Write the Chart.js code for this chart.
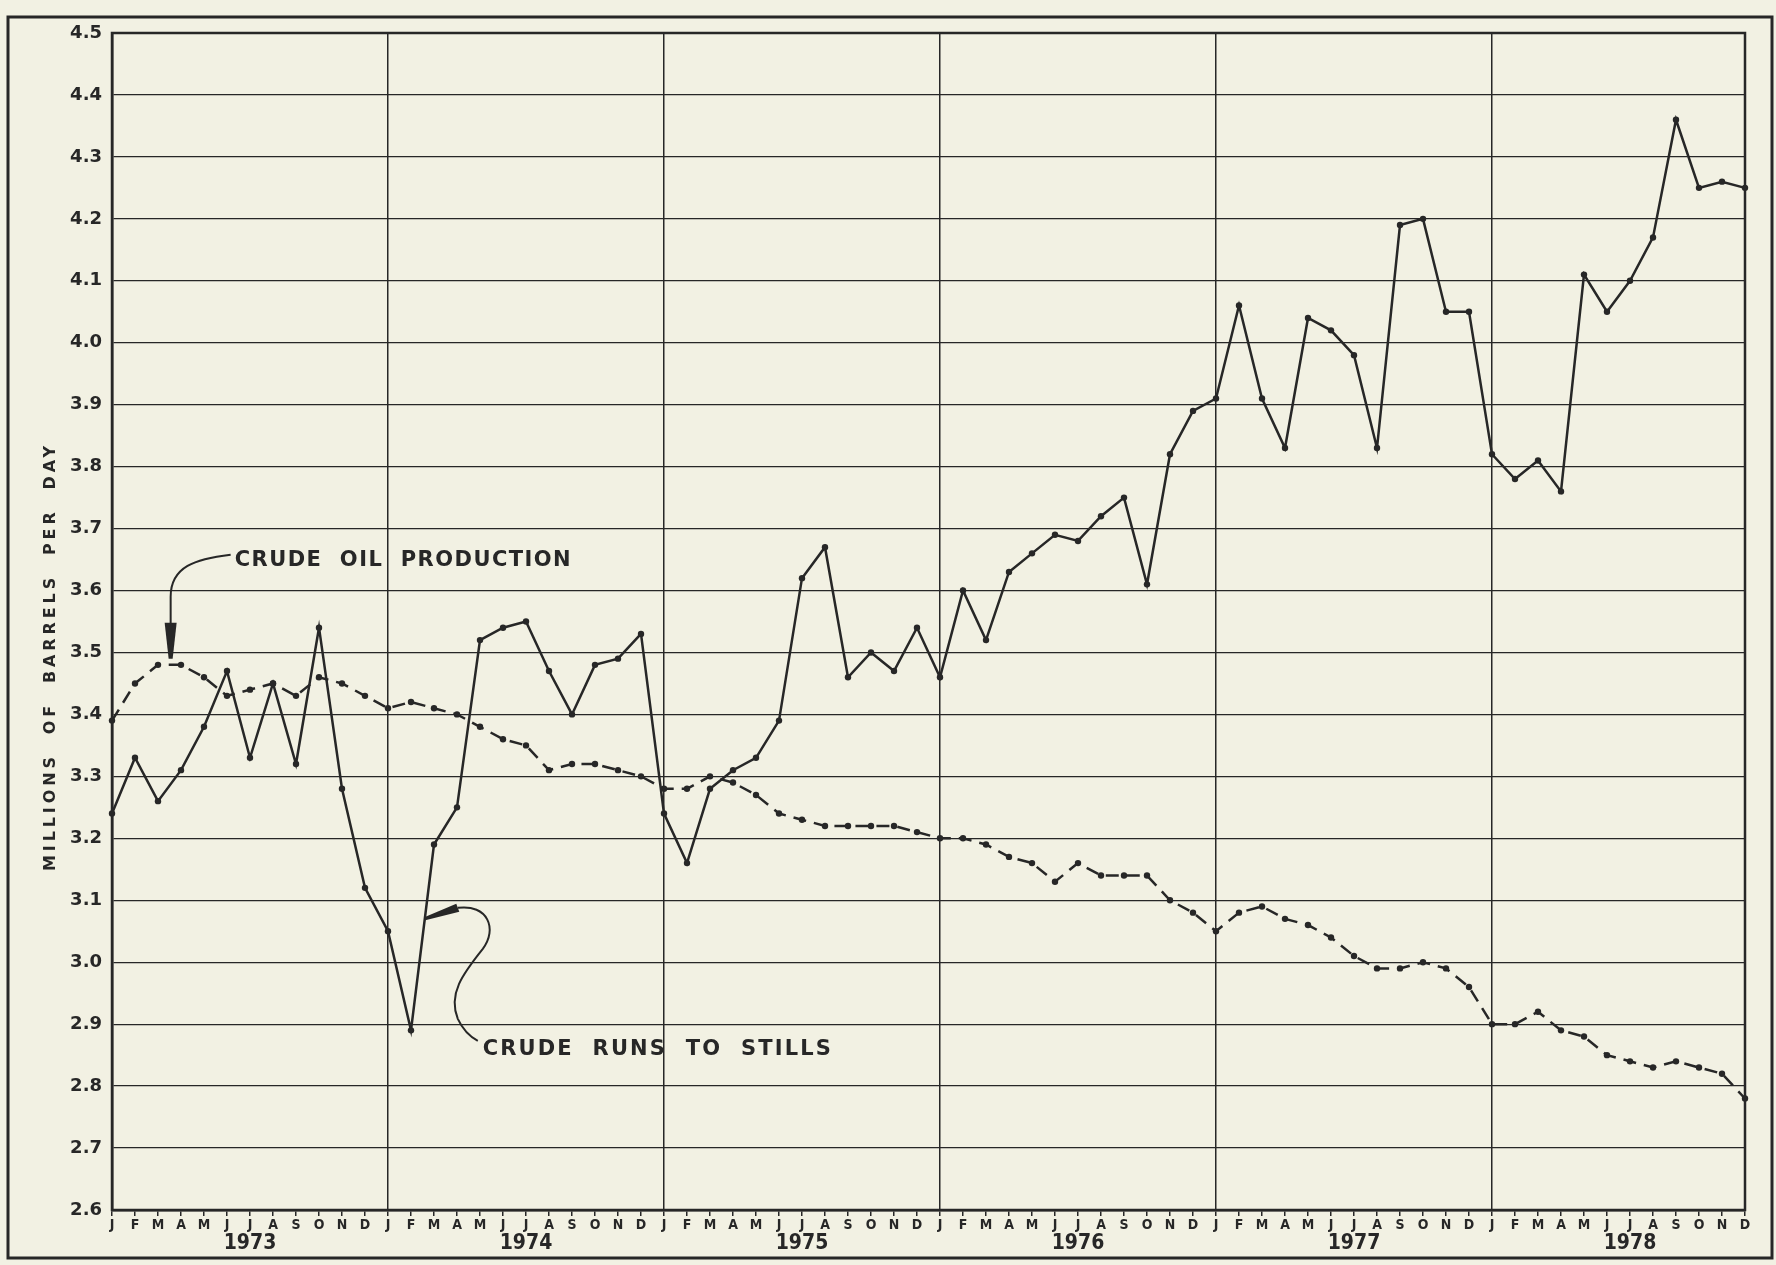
<!DOCTYPE html>
<html>
<head>
<meta charset="utf-8">
<script src="https://cdn.jsdelivr.net/npm/chart.js@4.4.1/dist/chart.umd.min.js"></script>
<style>
  html, body { margin: 0; padding: 0; background: #f2f1e3; }
  #wrap { width: 1776px; height: 1265px; }
</style>
</head>
<body>
<div id="wrap"><canvas id="crudeChart" width="1776" height="1265"></canvas></div>
<script>
// Monthly crude runs to stills vs crude oil production, 1973-1978 (millions of barrels per day)
const monthLetters = ['J', 'F', 'M', 'A', 'M', 'J', 'J', 'A', 'S', 'O', 'N', 'D'];
const years = ['1973', '1974', '1975', '1976', '1977', '1978'];
const yMin = 2.6;
const yMax = 4.5;
const yStep = 0.1;

const runsToStills = [
    3.24, 3.33, 3.26, 3.31, 3.38, 3.47, 3.33, 3.45, 3.32, 3.54, 3.28, 3.12,
    3.05, 2.89, 3.19, 3.25, 3.52, 3.54, 3.55, 3.47, 3.40, 3.48, 3.49, 3.53,
    3.24, 3.16, 3.28, 3.31, 3.33, 3.39, 3.62, 3.67, 3.46, 3.50, 3.47, 3.54,
    3.46, 3.60, 3.52, 3.63, 3.66, 3.69, 3.68, 3.72, 3.75, 3.61, 3.82, 3.89,
    3.91, 4.06, 3.91, 3.83, 4.04, 4.02, 3.98, 3.83, 4.19, 4.20, 4.05, 4.05,
    3.82, 3.78, 3.81, 3.76, 4.11, 4.05, 4.10, 4.17, 4.36, 4.25, 4.26, 4.25
];

const oilProduction = [
    3.39, 3.45, 3.48, 3.48, 3.46, 3.43, 3.44, 3.45, 3.43, 3.46, 3.45, 3.43,
    3.41, 3.42, 3.41, 3.40, 3.38, 3.36, 3.35, 3.31, 3.32, 3.32, 3.31, 3.30,
    3.28, 3.28, 3.30, 3.29, 3.27, 3.24, 3.23, 3.22, 3.22, 3.22, 3.22, 3.21,
    3.20, 3.20, 3.19, 3.17, 3.16, 3.13, 3.16, 3.14, 3.14, 3.14, 3.10, 3.08,
    3.05, 3.08, 3.09, 3.07, 3.06, 3.04, 3.01, 2.99, 2.99, 3.00, 2.99, 2.96,
    2.90, 2.90, 2.92, 2.89, 2.88, 2.85, 2.84, 2.83, 2.84, 2.83, 2.82, 2.78
];

const labels = years.flatMap(() => monthLetters);

const ink = '#272727';
const paper = '#f2f1e3';

// spread text so it fills a given width, like hand lettering
function spacedText(ctx, text, x, y, width) {
    ctx.letterSpacing = '0px';
    const w = ctx.measureText(text).width;
    ctx.letterSpacing = ((width - w) / (text.length - 1)) + 'px';
    ctx.fillText(text, x, y);
    ctx.letterSpacing = '0px';
}

const paperPlugin = {
    id: 'paper',
    beforeDraw(chart) {
        const ctx = chart.ctx;
        ctx.save();
        ctx.fillStyle = paper;
        ctx.fillRect(0, 0, chart.width, chart.height);
        ctx.restore();
    },
    afterDraw(chart) {
        const { ctx, chartArea: a, scales: { x, y } } = chart;
        ctx.save();
        ctx.strokeStyle = ink;
        ctx.fillStyle = ink;

        // plot frame and outer frame
        ctx.lineWidth = 2.5;
        ctx.strokeRect(a.left, a.top, a.right - a.left, a.bottom - a.top);
        ctx.lineWidth = 3;
        ctx.strokeRect(8, 17, chart.width - 12, chart.height - 24);

        // year labels under the months
        ctx.font = 'bold 21px "DejaVu Sans Condensed", "DejaVu Sans", sans-serif';
        ctx.textAlign = 'center';
        ctx.textBaseline = 'middle';
        years.forEach((yr, i) => {
            ctx.fillText(yr, x.getPixelForValue(i * 12 + 6), 1244);
        });

        // y axis title
        ctx.save();
        ctx.translate(51, 659);
        ctx.rotate(-Math.PI / 2);
        ctx.font = 'bold 16px "DejaVu Sans", sans-serif';
        ctx.textAlign = 'left';
        spacedText(ctx, 'MILLIONS  OF  BARRELS  PER  DAY', -212, 0, 425);
        ctx.restore();

        ctx.font = 'bold 21px "DejaVu Sans", sans-serif';
        ctx.textAlign = 'left';
        ctx.lineWidth = 2;

        // crude oil production callout
        let tx = x.getPixelForValue(2.55);
        let ty = y.getPixelForValue(3.49);
        ctx.beginPath();
        ctx.moveTo(tx, ty - 34);
        ctx.lineTo(tx, ty - 62);
        ctx.bezierCurveTo(tx, ty - 92, tx + 25, ty - 100, tx + 60, ty - 104);
        ctx.stroke();
        ctx.beginPath();
        ctx.moveTo(tx - 6, ty - 36);
        ctx.lineTo(tx + 6, ty - 36);
        ctx.lineTo(tx + 2, ty);
        ctx.lineTo(tx - 2, ty);
        ctx.closePath();
        ctx.fill();
        spacedText(ctx, 'CRUDE  OIL  PRODUCTION', tx + 64, ty - 98, 336);

        // crude runs to stills callout
        tx = x.getPixelForValue(13.6);
        ty = y.getPixelForValue(3.07);
        ctx.beginPath();
        ctx.moveTo(tx + 33, ty - 11);
        ctx.bezierCurveTo(tx + 63, ty - 15, tx + 73, ty + 10, tx + 58, ty + 30);
        ctx.bezierCurveTo(tx + 38, ty + 55, tx + 23, ty + 75, tx + 33, ty + 100);
        ctx.quadraticCurveTo(tx + 40, ty + 115, tx + 53, ty + 122);
        ctx.stroke();
        ctx.beginPath();
        ctx.moveTo(tx + 34.5, ty - 7);
        ctx.lineTo(tx + 31.5, ty - 15);
        ctx.lineTo(tx - 0.5, ty - 1.5);
        ctx.lineTo(tx + 0.5, ty + 1.5);
        ctx.closePath();
        ctx.fill();
        spacedText(ctx, 'CRUDE  RUNS  TO  STILLS', tx + 58, ty + 131, 348);

        ctx.restore();
    }
};

new Chart(document.getElementById('crudeChart'), {
    type: 'line',
    data: {
        labels: labels,
        datasets: [
            {
                label: 'Crude runs to stills',
                data: runsToStills,
                borderColor: ink,
                borderWidth: 2.5,
                pointRadius: 3.2,
                pointBackgroundColor: ink,
                pointBorderWidth: 0,
                tension: 0
            },
            {
                label: 'Crude oil production',
                data: oilProduction,
                borderColor: ink,
                borderWidth: 2.5,
                borderDash: [13, 8],
                pointRadius: 3.2,
                pointBackgroundColor: ink,
                pointBorderWidth: 0,
                tension: 0
            }
        ]
    },
    options: {
        responsive: false,
        animation: false,
        layout: { padding: { top: 33, right: 31, left: 0, bottom: 0 } },
        plugins: {
            legend: { display: false },
            tooltip: { enabled: false }
        },
        scales: {
            x: {
                type: 'category',
                offset: false,
                grid: {
                    color: ctx => (ctx.index % 12 === 0 ? ink : 'rgba(0,0,0,0)'),
                    lineWidth: 1.5,
                    tickColor: ink,
                    tickLength: 6,
                    drawTicks: true
                },
                border: { color: ink, width: 2.5 },
                ticks: {
                    autoSkip: false,
                    maxRotation: 0,
                    padding: 1,
                    color: ink,
                    font: { family: '"DejaVu Sans Condensed", "DejaVu Sans", sans-serif', size: 14, weight: 'bold' }
                },
                afterFit: scale => { scale.height = 55; }
            },
            y: {
                type: 'linear',
                min: yMin,
                max: yMax,
                grid: {
                    color: ink,
                    lineWidth: 1.3,
                    drawTicks: false
                },
                border: { color: ink, width: 2.5 },
                ticks: {
                    stepSize: yStep,
                    padding: 10,
                    color: ink,
                    callback: v => Number(v).toFixed(1),
                    font: { family: '"DejaVu Sans", sans-serif', size: 18, weight: 'bold' }
                },
                afterFit: scale => { scale.width = 112; }
            }
        }
    },
    plugins: [paperPlugin]
});
</script>
</body>
</html>
